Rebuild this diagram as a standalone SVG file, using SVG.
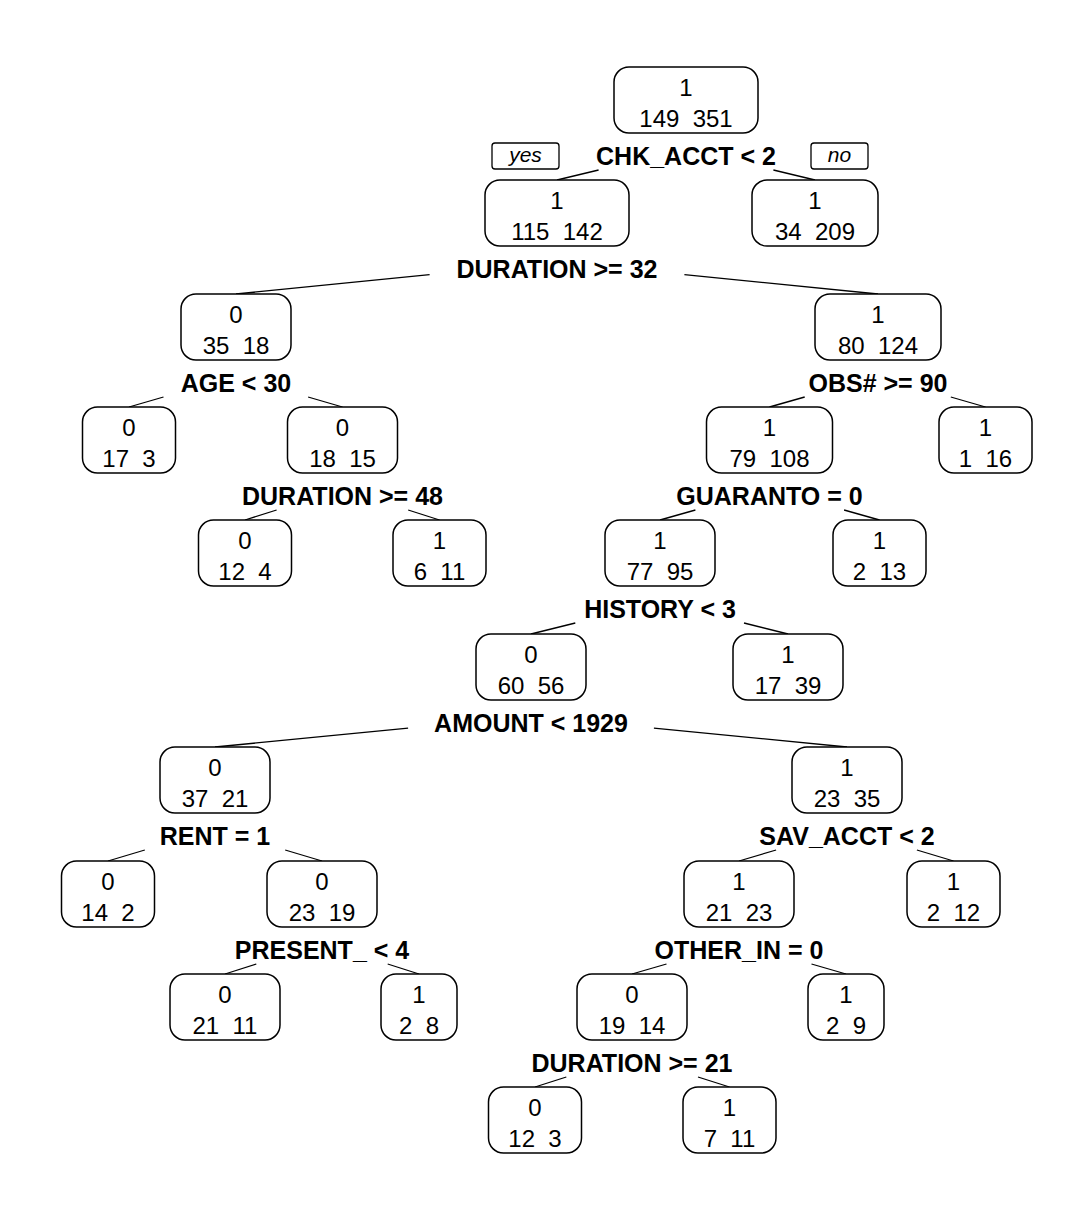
<svg xmlns="http://www.w3.org/2000/svg" width="1084" height="1210" viewBox="0 0 1084 1210">
<style>
.bg{fill:#ffffff}
.box{fill:#ffffff;stroke:#000000;stroke-width:1.5}
.yn{fill:#ffffff;stroke:#000000;stroke-width:1.3}
text{font-family:"Liberation Sans",Arial,Helvetica,sans-serif;text-anchor:middle;fill:#000000}
.t{font-size:24px}
.s{font-size:25px;font-weight:bold}
.i{font-size:21px;font-style:italic}
.e line{stroke:#000000;stroke-width:1.3}
</style>
<rect class="bg" x="0" y="0" width="1084" height="1210"/>
<g id="connectors" class="e">
<line x1="557" y1="180" x2="598.6" y2="170"/>
<line x1="815" y1="180" x2="773.4" y2="170"/>
<line x1="236" y1="294" x2="429.6" y2="274.7"/>
<line x1="878" y1="294" x2="684.4" y2="274.7"/>
<line x1="129" y1="407" x2="163.5" y2="397"/>
<line x1="342.5" y1="407" x2="308.1" y2="397"/>
<line x1="769.5" y1="407" x2="804.7" y2="397"/>
<line x1="985.5" y1="407" x2="950.8" y2="397"/>
<line x1="245" y1="520" x2="276.6" y2="510"/>
<line x1="439.5" y1="520" x2="408.2" y2="510"/>
<line x1="660" y1="520" x2="695.4" y2="510"/>
<line x1="879.5" y1="520" x2="844.1" y2="510"/>
<line x1="531" y1="634" x2="575.3" y2="623"/>
<line x1="788" y1="634" x2="744" y2="623"/>
<line x1="215" y1="747" x2="408.1" y2="728.1"/>
<line x1="847" y1="747" x2="653.9" y2="728.1"/>
<line x1="108" y1="861" x2="144.8" y2="850"/>
<line x1="322" y1="861" x2="285.2" y2="850"/>
<line x1="739" y1="861" x2="776.1" y2="850"/>
<line x1="953.5" y1="861" x2="916.9" y2="850"/>
<line x1="225" y1="974" x2="256.3" y2="964"/>
<line x1="419" y1="974" x2="387.7" y2="964"/>
<line x1="632" y1="974" x2="666.5" y2="964"/>
<line x1="846" y1="974" x2="811.5" y2="964"/>
<line x1="535" y1="1087" x2="566.3" y2="1077"/>
<line x1="729.5" y1="1087" x2="698" y2="1077"/>
</g>
<g id="yesno">
<rect class="yn" x="492" y="143" width="67" height="26" rx="3"/>
<text class="i" x="525.5" y="162">yes</text>
<rect class="yn" x="811" y="143" width="57" height="26" rx="3"/>
<text class="i" x="839.5" y="162">no</text>
</g>
<g id="n1">
<rect class="box" x="614" y="67" width="144" height="66" rx="15"/>
<text class="t" x="686" y="96">1</text>
<text class="t" x="686" y="127" xml:space="preserve">149  351</text>
<text class="s" x="686" y="165">CHK_ACCT &lt; 2</text>
</g>
<g id="n2">
<rect class="box" x="485" y="180" width="144" height="66" rx="15"/>
<text class="t" x="557" y="209">1</text>
<text class="t" x="557" y="240" xml:space="preserve">115  142</text>
<text class="s" x="557" y="278">DURATION &gt;= 32</text>
</g>
<g id="n3">
<rect class="box" x="752" y="180" width="126" height="66" rx="15"/>
<text class="t" x="815" y="209">1</text>
<text class="t" x="815" y="240" xml:space="preserve">34  209</text>
</g>
<g id="n4">
<rect class="box" x="181" y="294" width="110" height="66" rx="15"/>
<text class="t" x="236" y="323">0</text>
<text class="t" x="236" y="354" xml:space="preserve">35  18</text>
<text class="s" x="236" y="392">AGE &lt; 30</text>
</g>
<g id="n5">
<rect class="box" x="815" y="294" width="126" height="66" rx="15"/>
<text class="t" x="878" y="323">1</text>
<text class="t" x="878" y="354" xml:space="preserve">80  124</text>
<text class="s" x="878" y="392">OBS# &gt;= 90</text>
</g>
<g id="n8">
<rect class="box" x="82.5" y="407" width="93" height="66" rx="15"/>
<text class="t" x="129" y="436">0</text>
<text class="t" x="129" y="467" xml:space="preserve">17  3</text>
</g>
<g id="n9">
<rect class="box" x="287.5" y="407" width="110" height="66" rx="15"/>
<text class="t" x="342.5" y="436">0</text>
<text class="t" x="342.5" y="467" xml:space="preserve">18  15</text>
<text class="s" x="342.5" y="505">DURATION &gt;= 48</text>
</g>
<g id="n10">
<rect class="box" x="706.5" y="407" width="126" height="66" rx="15"/>
<text class="t" x="769.5" y="436">1</text>
<text class="t" x="769.5" y="467" xml:space="preserve">79  108</text>
<text class="s" x="769.5" y="505">GUARANTO = 0</text>
</g>
<g id="n11">
<rect class="box" x="939" y="407" width="93" height="66" rx="15"/>
<text class="t" x="985.5" y="436">1</text>
<text class="t" x="985.5" y="467" xml:space="preserve">1  16</text>
</g>
<g id="n18">
<rect class="box" x="198.5" y="520" width="93" height="66" rx="15"/>
<text class="t" x="245" y="549">0</text>
<text class="t" x="245" y="580" xml:space="preserve">12  4</text>
</g>
<g id="n19">
<rect class="box" x="393" y="520" width="93" height="66" rx="15"/>
<text class="t" x="439.5" y="549">1</text>
<text class="t" x="439.5" y="580" xml:space="preserve">6  11</text>
</g>
<g id="n20">
<rect class="box" x="605" y="520" width="110" height="66" rx="15"/>
<text class="t" x="660" y="549">1</text>
<text class="t" x="660" y="580" xml:space="preserve">77  95</text>
<text class="s" x="660" y="618">HISTORY &lt; 3</text>
</g>
<g id="n21">
<rect class="box" x="833" y="520" width="93" height="66" rx="15"/>
<text class="t" x="879.5" y="549">1</text>
<text class="t" x="879.5" y="580" xml:space="preserve">2  13</text>
</g>
<g id="n40">
<rect class="box" x="476" y="634" width="110" height="66" rx="15"/>
<text class="t" x="531" y="663">0</text>
<text class="t" x="531" y="694" xml:space="preserve">60  56</text>
<text class="s" x="531" y="732">AMOUNT &lt; 1929</text>
</g>
<g id="n41">
<rect class="box" x="733" y="634" width="110" height="66" rx="15"/>
<text class="t" x="788" y="663">1</text>
<text class="t" x="788" y="694" xml:space="preserve">17  39</text>
</g>
<g id="n80">
<rect class="box" x="160" y="747" width="110" height="66" rx="15"/>
<text class="t" x="215" y="776">0</text>
<text class="t" x="215" y="807" xml:space="preserve">37  21</text>
<text class="s" x="215" y="845">RENT = 1</text>
</g>
<g id="n81">
<rect class="box" x="792" y="747" width="110" height="66" rx="15"/>
<text class="t" x="847" y="776">1</text>
<text class="t" x="847" y="807" xml:space="preserve">23  35</text>
<text class="s" x="847" y="845">SAV_ACCT &lt; 2</text>
</g>
<g id="n160">
<rect class="box" x="61.5" y="861" width="93" height="66" rx="15"/>
<text class="t" x="108" y="890">0</text>
<text class="t" x="108" y="921" xml:space="preserve">14  2</text>
</g>
<g id="n161">
<rect class="box" x="267" y="861" width="110" height="66" rx="15"/>
<text class="t" x="322" y="890">0</text>
<text class="t" x="322" y="921" xml:space="preserve">23  19</text>
<text class="s" x="322" y="959">PRESENT_ &lt; 4</text>
</g>
<g id="n162">
<rect class="box" x="684" y="861" width="110" height="66" rx="15"/>
<text class="t" x="739" y="890">1</text>
<text class="t" x="739" y="921" xml:space="preserve">21  23</text>
<text class="s" x="739" y="959">OTHER_IN = 0</text>
</g>
<g id="n163">
<rect class="box" x="907" y="861" width="93" height="66" rx="15"/>
<text class="t" x="953.5" y="890">1</text>
<text class="t" x="953.5" y="921" xml:space="preserve">2  12</text>
</g>
<g id="n322">
<rect class="box" x="170" y="974" width="110" height="66" rx="15"/>
<text class="t" x="225" y="1003">0</text>
<text class="t" x="225" y="1034" xml:space="preserve">21  11</text>
</g>
<g id="n323">
<rect class="box" x="381" y="974" width="76" height="66" rx="15"/>
<text class="t" x="419" y="1003">1</text>
<text class="t" x="419" y="1034" xml:space="preserve">2  8</text>
</g>
<g id="n324">
<rect class="box" x="577" y="974" width="110" height="66" rx="15"/>
<text class="t" x="632" y="1003">0</text>
<text class="t" x="632" y="1034" xml:space="preserve">19  14</text>
<text class="s" x="632" y="1072">DURATION &gt;= 21</text>
</g>
<g id="n325">
<rect class="box" x="808" y="974" width="76" height="66" rx="15"/>
<text class="t" x="846" y="1003">1</text>
<text class="t" x="846" y="1034" xml:space="preserve">2  9</text>
</g>
<g id="n648">
<rect class="box" x="488.5" y="1087" width="93" height="66" rx="15"/>
<text class="t" x="535" y="1116">0</text>
<text class="t" x="535" y="1147" xml:space="preserve">12  3</text>
</g>
<g id="n649">
<rect class="box" x="683" y="1087" width="93" height="66" rx="15"/>
<text class="t" x="729.5" y="1116">1</text>
<text class="t" x="729.5" y="1147" xml:space="preserve">7  11</text>
</g>
</svg>
